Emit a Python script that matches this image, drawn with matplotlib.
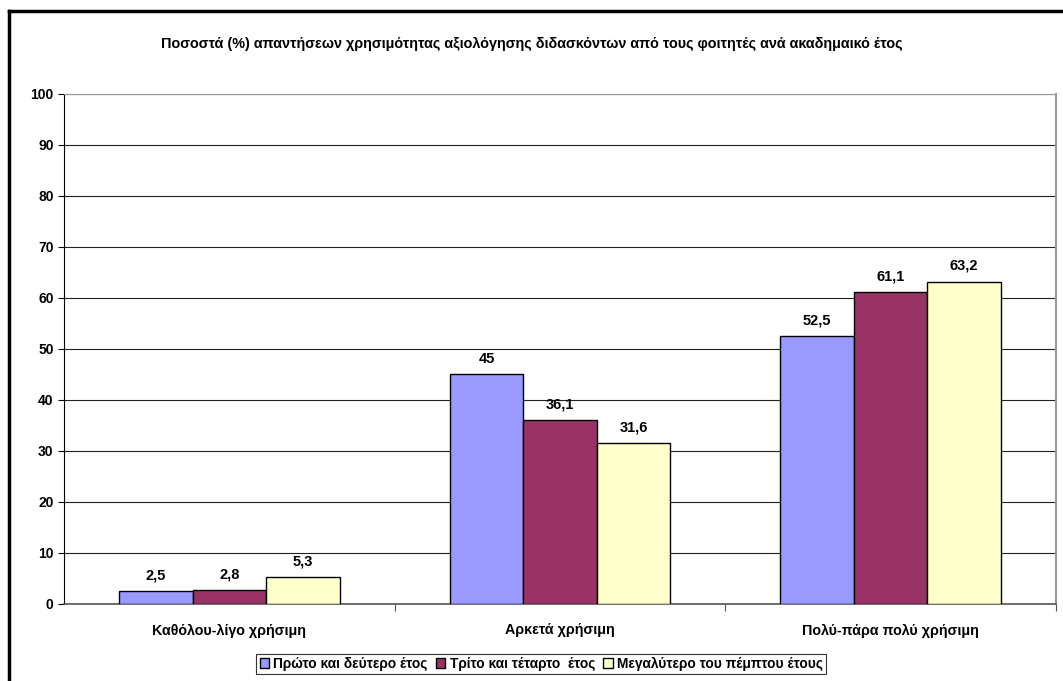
import numpy as np
import matplotlib
matplotlib.use("Agg")
import matplotlib.pyplot as plt
from matplotlib.lines import Line2D

plt.rcParams['font.family'] = ['Liberation Sans', 'DejaVu Sans']
plt.rcParams['font.weight'] = 'bold'

title = "Ποσοστά (%) απαντήσεων χρησιμότητας αξιολόγησης διδασκόντων από τους φοιτητές ανά ακαδημαικό έτος"
categories = ["Καθόλου-λίγο χρήσιμη", "Αρκετά χρήσιμη", "Πολύ-πάρα πολύ χρήσιμη"]
series_names = ["Πρώτο και δεύτερο έτος", "Τρίτο και τέταρτο  έτος", "Μεγαλύτερο του πέμπτου έτους"]
first_second = [2.5, 45, 52.5]
third_fourth = [2.8, 36.1, 61.1]
fifth_plus = [5.3, 31.6, 63.2]
colors = ["#9999FF", "#993366", "#FFFFCC"]

series = [first_second, third_fourth, fifth_plus]

fig = plt.figure(figsize=(10.63, 6.81), dpi=100)
ax = fig.add_axes([0.0602, 0.1131, 0.9332, 0.7489])

x = np.arange(len(categories))
w = 0.2222
for i, vals in enumerate(series):
    pos = x + (i - 1) * w
    bars = ax.bar(pos, vals, width=w, color=colors[i], edgecolor="black",
                  linewidth=1.0, label=series_names[i], zorder=3)
    for b, v in zip(bars, vals):
        ax.text(b.get_x() + b.get_width() / 2, v + 1.7, f"{v:g}".replace(".", ","),
                ha="center", va="bottom", fontsize=10.5, fontweight="bold")

ax.set_xlim(-0.5, 2.5)
ax.set_ylim(0, 100)
ax.set_yticks(range(0, 101, 10))
ax.yaxis.grid(True, color="#222222", linewidth=0.8, zorder=0)
ax.tick_params(axis="y", labelsize=10, length=4, width=0.8, direction="out")
ax.set_xticks(x)
ax.set_xticklabels(categories, fontsize=10.3, fontweight="bold")
ax.tick_params(axis="x", length=0, pad=14)
ax.set_xticks([0.5, 1.5, 2.5], minor=True)
ax.tick_params(axis="x", which="minor", length=5, width=0.8, color="#555555")

ax.spines["left"].set_color("black")
ax.spines["bottom"].set_color("#555555")
ax.spines["bottom"].set_linewidth(1.2)
ax.spines["top"].set_color("#999999")
ax.spines["right"].set_color("#999999")
ax.spines["right"].set_linewidth(1.5)

fig.text(0.5, 1 - 44 / 681, title, ha="center", va="center", fontsize=10.4, fontweight="bold")

leg = fig.legend(loc="center", bbox_to_anchor=(0.509, 1 - 664 / 681), ncol=3,
                 fontsize=9.9, frameon=True, fancybox=False, handlelength=0.7,
                 handleheight=0.7, handletextpad=0.3, columnspacing=0.6,
                 borderpad=0.25, borderaxespad=0)
leg.get_frame().set_edgecolor("black")
leg.get_frame().set_linewidth(0.8)

# outer chart border (top and left only visible)
fig.add_artist(Line2D([9 / 1063, 1.0], [1 - 11 / 681, 1 - 11 / 681], color="black",
                      linewidth=2.5, transform=fig.transFigure))
fig.add_artist(Line2D([9 / 1063, 9 / 1063], [0, 1 - 11 / 681], color="black",
                      linewidth=2.5, transform=fig.transFigure))

fig.savefig("out.png", dpi=100)
